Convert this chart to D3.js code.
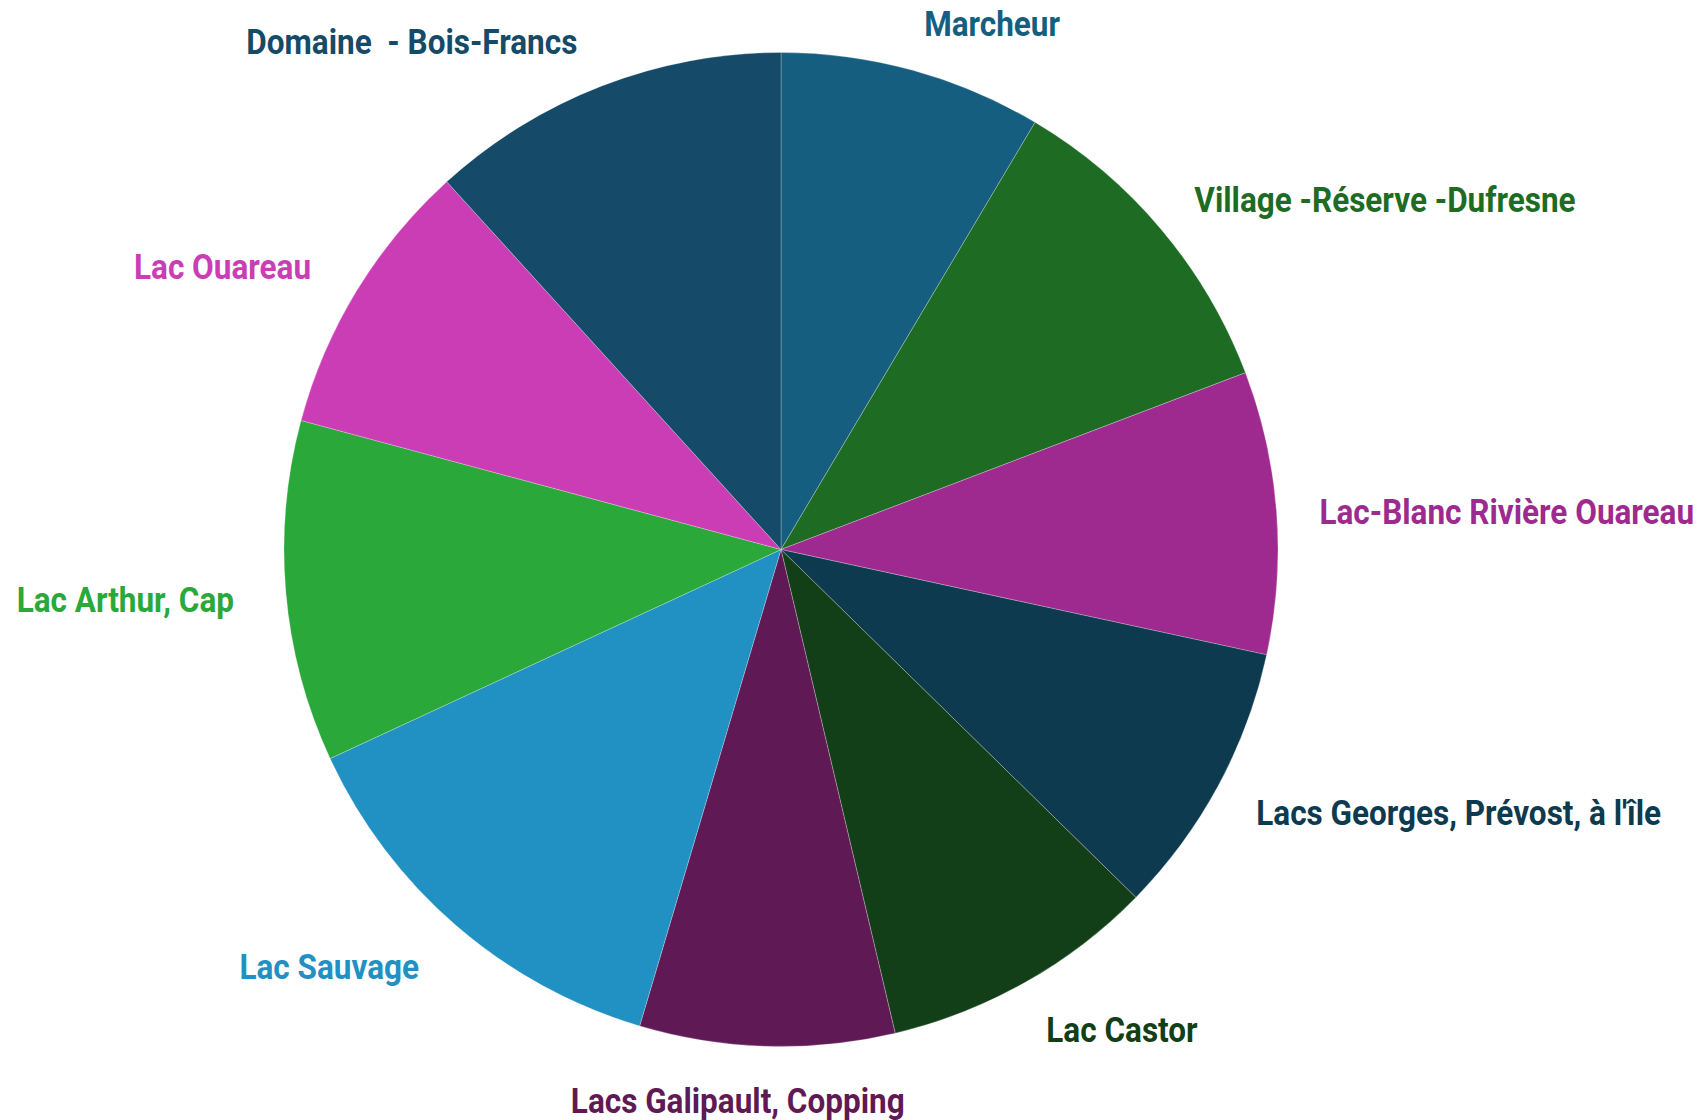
<!DOCTYPE html>
<html>
<head>
<meta charset="utf-8">
<script src="https://cdn.jsdelivr.net/npm/d3@7"></script>
<style>
  body { margin: 0; background: #fff; }
  svg text {
    font-family: Roboto, "Liberation Sans", sans-serif;
    font-weight: bold;
    white-space: pre;
  }
</style>
</head>
<body>
<svg></svg>
<script>
var width = 1703;
var height = 1120;

// sectors, clockwise from 12 o'clock
var sectors = [
  "Marcheur",
  "Village -Réserve -Dufresne",
  "Lac-Blanc Rivière Ouareau",
  "Lacs Georges, Prévost, à l'île",
  "Lac Castor",
  "Lacs Galipault, Copping",
  "Lac Sauvage",
  "Lac Arthur, Cap",
  "Lac Ouareau",
  "Domaine  - Bois-Francs"
];
var shares = [8.54, 10.67, 9.19, 8.94, 8.97, 8.28, 13.50, 11.09, 9.08, 11.74];
var colors = ["#155e80", "#1e6b24", "#9e2a8f", "#0e3a4f", "#123f17",
              "#5f1a55", "#2190c2", "#2aa83a", "#cb3db5", "#154a68"];

var data = sectors.map((name, i) => ({ name: name, value: shares[i] }));

var radius = 497;
var labelRx = 540;
var labelRy = 548;
var narrow = 0.9; // fake a condensed face

var svg = d3.select("svg")
    .attr("width", width)
    .attr("height", height);

var chart = svg.append("g")
    .attr("transform", `translate(781, 549.5)`);

var color = d3.scaleOrdinal()
    .domain(sectors)
    .range(colors);

var arcs = d3.pie()
    .value(d => d.value)
    .sort(null)
    (data);

var path = d3.arc()
    .outerRadius(radius)
    .innerRadius(0);

chart.selectAll(".arc")
  .data(arcs)
  .enter()
  .append("path")
    .classed("arc", true)
    .attr("fill", d => color(d.data.name))
    .attr("stroke", "#ffffff")
    .attr("stroke-width", 0.5)
    .attr("stroke-opacity", 0.5)
    .attr("d", path);

function midAngle(d) {
  return (d.startAngle + d.endAngle) / 2;
}

function anchor(d) {
  var s = Math.sin(midAngle(d));
  if (Math.abs(s) < 0.1) return "middle";
  return s > 0 ? "start" : "end";
}

chart.selectAll(".label")
  .data(arcs)
  .enter()
  .append("text")
    .classed("label", true)
    .attr("transform", d => {
      var a = midAngle(d);
      var x = labelRx * Math.sin(a);
      var y = -labelRy * Math.cos(a) + 3;
      if (anchor(d) === "middle") x -= 28;  // bottom label sits a bit left
      if (anchor(d) === "end") x -= 9;
      return `translate(${x}, ${y}) scale(${narrow}, 1)`;
    })
    .attr("dy", "0.35em")
    .style("font-size", "35px")
    .style("text-anchor", anchor)
    .attr("fill", d => color(d.data.name))
    .text(d => d.data.name);
</script>
</body>
</html>
